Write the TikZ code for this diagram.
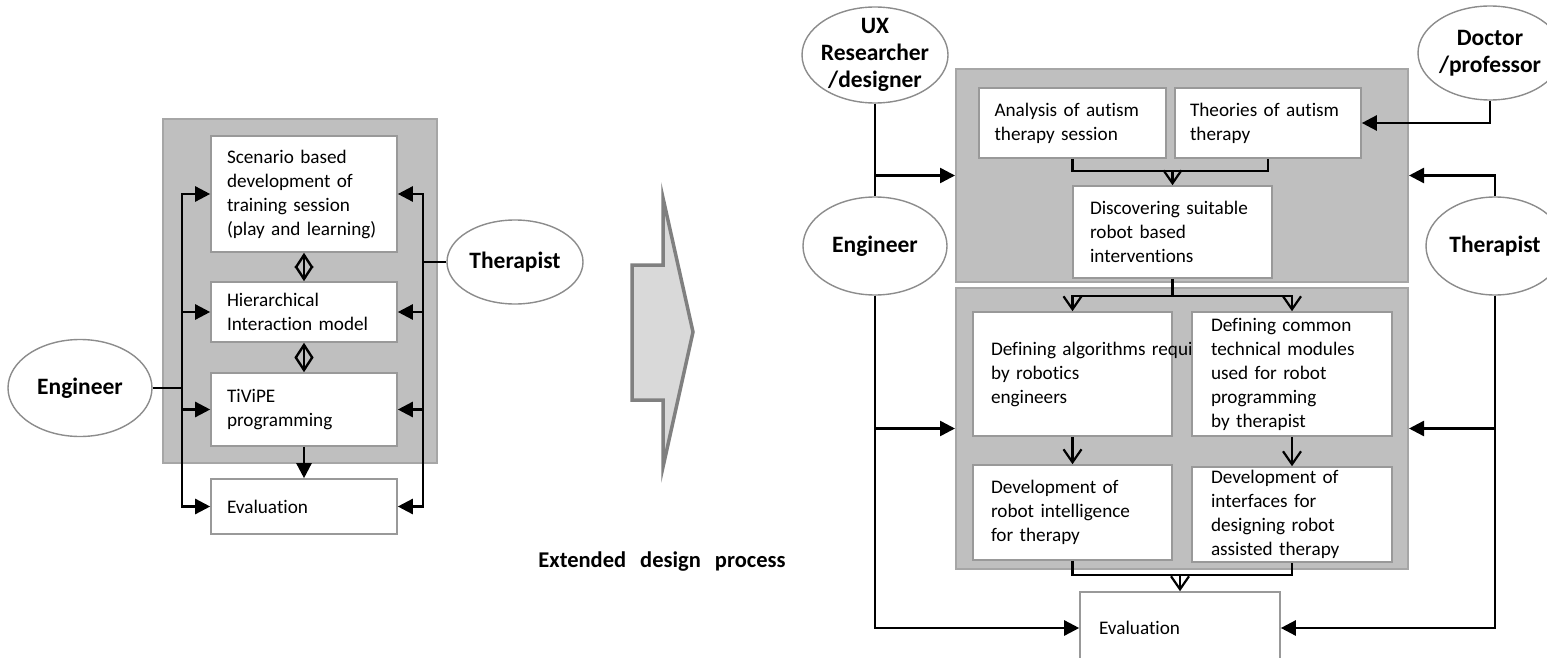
\documentclass[tikz,border=0pt]{standalone}
\usepackage{fontspec}
\setmainfont{Carlito}[Ligatures=NoCommon]
\usetikzlibrary{arrows.meta,shapes.geometric,calc}

\tikzset{
  panel/.style={draw=black!35, fill=black!25, line width=2pt, inner sep=0pt},
  stage/.style={draw=black!40, fill=white, line width=1.6pt, inner sep=0pt, align=left,
    font=\fontsize{19.2}{24}\selectfont},
  person/.style={ellipse, draw=black!45, fill=white, line width=1.4pt, inner sep=-14pt,
    align=center, font=\bfseries\fontsize{23.5}{27}\selectfont},
  link/.style={line width=2.5pt},
  flow/.style={link, -{Triangle[length=15pt, width=15pt]}},
  feed/.style={line width=2.2pt, -{Straight Barb[length=13pt, width=18pt]}},
  swap/.style={line width=2.4pt, {Straight Barb[length=13pt, width=17pt]}-{Straight Barb[length=13pt, width=17pt]}},
}

\begin{document}
\begin{tikzpicture}[x=1pt, y=-1pt]
    \useasboundingbox (0,0) rectangle (1547,658);
    \clip (0,0) rectangle (1547,658);

    % Current design process
    \node[panel, minimum width=274pt, minimum height=344pt] (prepL) at (300,291) {};
    \node[stage, minimum width=186pt, minimum height=116pt, text width=154pt] (scen) at (304,194)
        {Scenario based\\development of\\training session\\(play and learning)};
    \node[stage, minimum width=186pt, minimum height=60pt, text width=154pt] (hier) at (304,312)
        {Hierarchical\\Interaction model};
    \node[stage, minimum width=186pt, minimum height=73pt, text width=154pt] (tivipe) at (304,409.5)
        {TiViPE\\programming};
    \node[stage, minimum width=186pt, minimum height=55pt, text width=154pt] (evalL) at (304,506.5)
        {Evaluation};

    \node[person, minimum width=144pt, minimum height=97pt] (engL) at (80,388) {Engineer};
    \node[person, minimum width=136pt, minimum height=84pt] (therL) at (515,262) {Therapist};

    % Buses of the current process
    \coordinate (ejoin) at (182,388);
    \coordinate (tjoin) at (423,262);
    \draw[link] (engL) -- (ejoin);
    \draw[link] (therL) -- (tjoin);
    \foreach \t in {scen,hier,tivipe,evalL} {
        \draw[flow] (ejoin) |- (\t.west);
        \draw[flow] (tjoin) |- (\t.east);
    }
    \draw[swap] (scen) -- (hier);
    \draw[swap] (hier) -- (tivipe);
    \draw[flow] (tivipe) -- (evalL);

    % Big arrow
    \draw[fill=black!15, draw=black!50, line width=3.5pt]
        (632,265) -- (663,265) -- (663,198) -- (693,332) -- (663,467) -- (663,400) -- (632,400) -- cycle;
    \node[font=\bfseries\fontsize{22.5}{26}\selectfont] (caption) at (662,562)
        {Extended\hspace{9pt} design\hspace{9pt} process};

    % Extended design process
    \node[panel, minimum width=452pt, minimum height=213pt] (panelA) at (1182,175.5) {};
    \node[panel, minimum width=452pt, minimum height=281pt] (panelB) at (1182,428.5) {};

    \node[stage, minimum width=187pt, minimum height=70pt, text width=156pt] (ana) at (1072.5,123)
        {Analysis of autism\\therapy session};
    \node[stage, minimum width=186pt, minimum height=70pt, text width=156pt] (theo) at (1268,123)
        {Theories of autism\\therapy};
    \node[stage, minimum width=199pt, minimum height=92pt, text width=165pt] (disc) at (1172.5,232)
        {Discovering suitable\\robot based\\interventions};
    \node[stage, minimum width=199pt, minimum height=124pt, text width=163pt] (alg) at (1072.5,374)
        {\rlap{Defining algorithms required}\\by robotics\\engineers};
    \node[stage, minimum width=200pt, minimum height=124pt, text width=162pt] (mod) at (1292,374)
        {Defining common\\technical modules\\used for robot\\programming\\by therapist};
    \node[stage, minimum width=199pt, minimum height=95pt, text width=163pt] (intel) at (1072.5,512.5)
        {Development of\\robot intelligence\\for therapy};
    \node[stage, minimum width=200pt, minimum height=95pt, text width=162pt] (iface) at (1292,514.5)
        {Development of\\interfaces for\\designing robot\\assisted therapy};
    \node[stage, minimum width=200pt, minimum height=72pt, text width=162pt] (evalR) at (1180,628)
        {Evaluation};

    \node[person, minimum width=146pt, minimum height=96pt] (ux) at (875,55) {UX\\Researcher\\/designer};
    \node[person, minimum width=144pt, minimum height=98pt] (engR) at (875,246) {Engineer};
    \node[person, minimum width=144pt, minimum height=94pt] (doc) at (1490,53) {Doctor\\/professor};
    \node[person, minimum width=138pt, minimum height=98pt] (therR) at (1495,246) {Therapist};

    % Stakeholders
    \draw[link] (ux) -- (engR);
    \draw[flow] (ux.south) |- (panelA.west);
    \draw[flow] (engR.south) |- (panelB.west);
    \draw[flow] (engR.south) |- (evalR.west);
    \draw[flow] (doc.south) |- (theo.east);
    \draw[flow] (therR.north) |- (panelA.east);
    \draw[flow] (therR.south) |- (panelB.east);
    \draw[flow] (therR.south) |- (evalR.east);

    % Inner flow
    \draw[link] (ana.south) |- ($(disc.north)+(0,-14)$) -| (theo.south);
    \draw[feed] ($(disc.north)+(0,-14)$) -- (disc.north);
    \draw[link] (disc.south) -- ++(0,17) coordinate (split);
    \draw[feed] (split) -| (alg.north);
    \draw[feed] (split) -| (mod.north);
    \draw[feed] (alg) -- (intel);
    \draw[feed] (mod) -- (iface);
    \draw[link] (intel.south) |- ($(evalR.north)+(0,-16)$) -| (iface.south);
    \draw[feed] ($(evalR.north)+(0,-16)$) -- (evalR.north);

\end{tikzpicture}
\end{document}
